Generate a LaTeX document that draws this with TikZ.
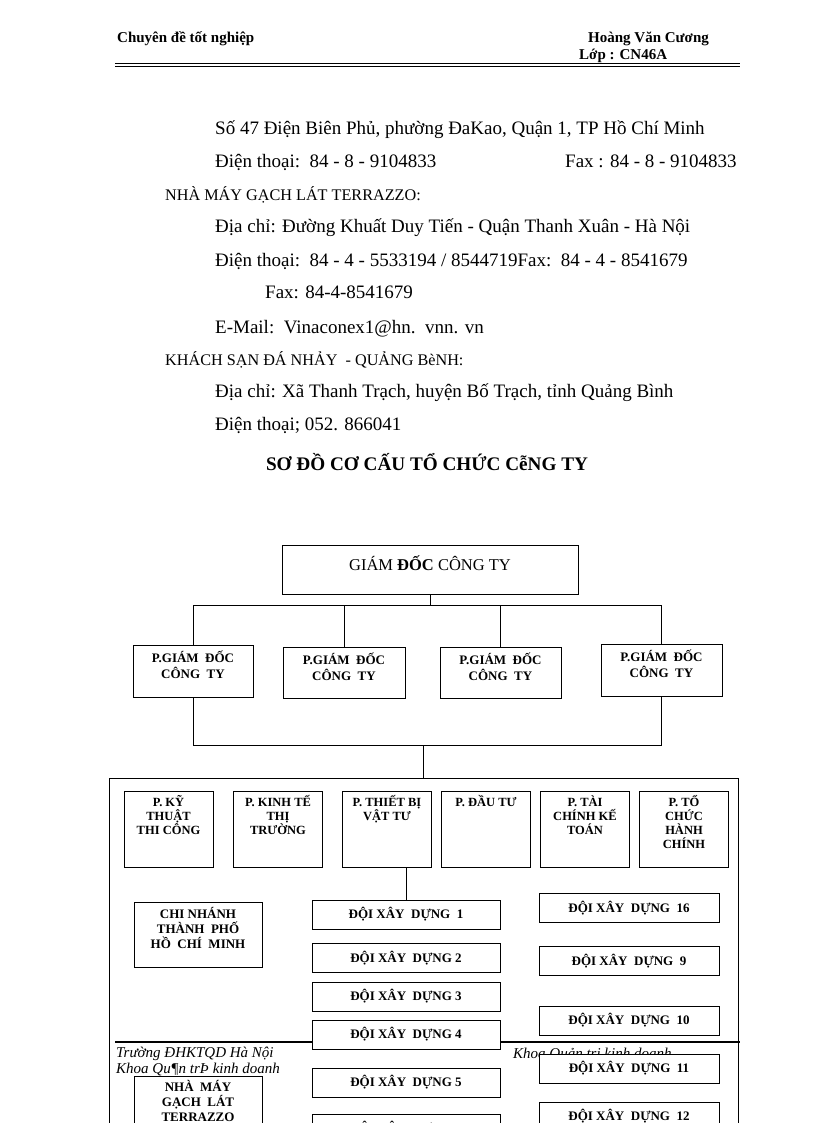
\documentclass[tikz,border=0pt]{standalone}
\usepackage{fontspec}
\setmainfont{Liberation Serif}

\begin{document}
\begin{tikzpicture}[x=1pt, y=-1pt,
		txt/.style={anchor=base west, inner sep=0pt, font=\fontsize{19}{23}\selectfont},
		hoa/.style={anchor=base west, inner sep=0pt, font=\fontsize{16.2}{19}\selectfont},
		head/.style={anchor=base west, inner sep=0pt, font=\bfseries\fontsize{15}{18}\selectfont},
		foot/.style={anchor=base west, inner sep=0pt, font=\itshape\fontsize{15}{18}\selectfont},
		hop/.style={draw, fill=white, line width=1pt, inner sep=0pt, align=center,
			font=\bfseries\fontsize{13}{15}\selectfont},
		phong/.style={hop, minimum width=89pt, minimum height=76pt},
		chu/.style={anchor=north, inner sep=0pt, align=center,
			font=\bfseries\fontsize{12.5}{14}\selectfont},
		doi/.style={hop, minimum width=188pt, minimum height=29pt},
		doiphai/.style={hop, minimum width=180pt, minimum height=29pt},
		noi/.style={line width=1pt}]
		\useasboundingbox (0,0) rectangle (816,1123);
		\clip (0,0) rectangle (816,1123);
		
		% header
		\node[head] (chuyende) at (117,43) {Chuyên đề tốt nghiệp};
		\node[head] (tacgia) at (588,43) {Hoàng Văn Cương};
		\node[head] (lop) at (579,60) {Lớp : CN46A};
		\draw[line width=1.6pt] (115,63.5) -- (740,63.5);
		\draw[line width=0.6pt] (115,66.5) -- (740,66.5);
		
		% addresses
		\node[txt] (dc1) at (215,135) {Số 47 Điện Biên Phủ, phường ĐaKao, Quận 1, TP Hồ Chí Minh};
		\node[txt] (dt1) at (215,168) {Điện thoại:\ \ 84 - 8 - 9104833};
		\node[txt] (fax1) at (565,168) {Fax : 84 - 8 - 9104833};
		\node[hoa] (nhamay) at (165,201) {NHÀ MÁY GẠCH LÁT TERRAZZO:};
		\node[txt] (dc2) at (215,233) {Địa chỉ: Đường Khuất Duy Tiến - Quận Thanh Xuân - Hà Nội};
		\node[txt] (dt2) at (215,266) {Điện thoại:\ \ 84 - 4 - 5533194 / 8544719Fax:\ \ 84 - 4 - 8541679};
		\node[txt] (fax2) at (265,298) {Fax: 84-4-8541679};
		\node[txt] (mail) at (215,333) {E-Mail:\ \ Vinaconex1@hn.\ \ vnn. vn};
		\node[hoa] (khachsan) at (165,365) {KHÁCH SẠN ĐÁ NHẢY\ \ - QUẢNG BèNH:};
		\node[txt] (dc3) at (215,397) {Địa chỉ: Xã Thanh Trạch, huyện Bố Trạch, tỉnh Quảng Bình};
		\node[txt] (dt3) at (215,430) {Điện thoại; 052. 866041};
		\node[anchor=base, inner sep=0pt, font=\bfseries\fontsize{19.2}{22}\selectfont]
		(tieude) at (427,470) {SƠ ĐỒ CƠ CẤU TỔ CHỨC CễNG TY};
		
		% chart
		\node[draw, line width=1pt, minimum width=296pt, minimum height=49pt,
		text height=11pt, text depth=9pt, font=\fontsize{16.5}{19}\selectfont]
		(gd) at (430,569.5) {GIÁM \textbf{ĐỐC} CÔNG TY};
		\node[hop, minimum width=120pt, minimum height=52pt] (pgd1) at (193,671) {};
		\node[hop, minimum width=122pt, minimum height=51pt] (pgd2) at (344,672.5) {};
		\node[hop, minimum width=121pt, minimum height=51pt] (pgd3) at (500.5,672.5) {};
		\node[hop, minimum width=121pt, minimum height=52pt] (pgd4) at (661.5,670) {};
		\node[chu, font=\bfseries\fontsize{13}{16}\selectfont] (pgd1-t) at ([yshift=-6pt]pgd1.north) {P.GIÁM\ \ ĐỐC\\CÔNG\ \ TY};
		\node[chu, font=\bfseries\fontsize{13}{16}\selectfont] (pgd2-t) at ([yshift=-6pt]pgd2.north) {P.GIÁM\ \ ĐỐC\\CÔNG\ \ TY};
		\node[chu, font=\bfseries\fontsize{13}{16}\selectfont] (pgd3-t) at ([yshift=-6pt]pgd3.north) {P.GIÁM\ \ ĐỐC\\CÔNG\ \ TY};
		\node[chu, font=\bfseries\fontsize{13}{16}\selectfont] (pgd4-t) at ([yshift=-6pt]pgd4.north) {P.GIÁM\ \ ĐỐC\\CÔNG\ \ TY};
		
		\coordinate (busA) at (0,605);
		\coordinate (busB) at (0,745);
		\draw[noi] (gd.south) -- (gd.south |- busA);
		\draw[noi] (pgd1.north |- busA) -- (pgd4.north |- busA);
		\draw[noi] (pgd1.north) -- (pgd1.north |- busA);
		\draw[noi] (pgd2.north) -- (pgd2.north |- busA);
		\draw[noi] (pgd3.north) -- (pgd3.north |- busA);
		\draw[noi] (pgd4.north) -- (pgd4.north |- busA);
		\draw[noi] (pgd1.south) -- (pgd1.south |- busB) -- (pgd4.south |- busB) -- (pgd4.south);
		
		\node[draw, line width=1pt, minimum width=629pt, minimum height=422pt] (khoi) at (423.5,989) {};
		\draw[noi] (khoi.north |- busB) -- (khoi.north);
		
		% footer (under the boxes)
		\draw[line width=2pt] (115,1042) -- (740,1042);
		\node[foot] (truong) at (116,1057) {Trường ĐHKTQD Hà Nội};
		\node[foot] (khoa1) at (116,1073) {Khoa Qu¶n trÞ kinh doanh};
		\node[foot] (khoa2) at (513,1058) {Khoa Quản trị kinh doanh};
		
		% phong ban
		\node[phong] (pkt) at (168.5,829) {};
		\node[phong] (pkd) at (278,829) {};
		\node[phong] (ptb) at (387,829) {};
		\node[phong] (pdt) at (486,829) {};
		\node[phong] (ptc) at (585,829) {};
		\node[phong] (phc) at (684,829) {};
		\node[chu] (pkt-t) at ([yshift=-5pt]pkt.north) {P. KỸ\\THUẬT\\THI CÔNG};
		\node[chu] (pkd-t) at ([yshift=-5pt]pkd.north) {P. KINH TẾ\\THỊ\\TRƯỜNG};
		\node[chu] (ptb-t) at ([yshift=-5pt]ptb.north) {P. THIẾT BỊ\\VẬT TƯ};
		\node[chu] (pdt-t) at ([yshift=-5pt]pdt.north) {P. ĐẦU TƯ};
		\node[chu] (ptc-t) at ([yshift=-5pt]ptc.north) {P. TÀI\\CHÍNH KẾ\\TOÁN};
		\node[chu] (phc-t) at ([yshift=-5pt]phc.north) {P. TỔ\\CHỨC\\HÀNH\\CHÍNH};
		
		\node[hop, minimum width=128pt, minimum height=65pt] (cn) at (198,934.5) {};
		\node[chu, font=\bfseries\fontsize{13}{15}\selectfont] (cn-t) at ([yshift=-6pt]cn.north) {CHI NHÁNH\\THÀNH\ \ PHỐ\\HỒ\ \ CHÍ\ \ MINH};
		\node[hop, minimum width=128pt, minimum height=74pt] (nm) at (198,1113) {};
		\node[chu, font=\bfseries\fontsize{13}{15}\selectfont] (nm-t) at ([yshift=-5pt]nm.north) {NHÀ\ \ MÁY\\GẠCH\ \ LÁT\\TERRAZZO};
		
		\node[doi] (d1) at (406,914.5) {ĐỘI XÂY\ \ DỰNG\ \ 1};
		\node[doi] (d2) at (406,958) {ĐỘI XÂY\ \ DỰNG 2};
		\node[doi] (d3) at (406,996.5) {ĐỘI XÂY\ \ DỰNG 3};
		\node[doi] (d4) at (406,1034.5) {ĐỘI XÂY\ \ DỰNG 4};
		\node[doi] (d5) at (406,1082.5) {ĐỘI XÂY\ \ DỰNG 5};
		\node[doi] (d6) at (406,1128.5) {ĐỘI XÂY\ \ DỰNG 6};
		\draw[noi] (ptb.south -| d1.north) -- (d1.north);
		
		\node[doiphai] (d16) at (629,908) {ĐỘI XÂY\ \ DỰNG\ \ 16};
		\node[doiphai] (d9) at (629,961) {ĐỘI XÂY\ \ DỰNG\ \ 9};
		\node[doiphai] (d10) at (629,1020.5) {ĐỘI XÂY\ \ DỰNG\ \ 10};
		\node[doiphai] (d11) at (629,1068.5) {ĐỘI XÂY\ \ DỰNG\ \ 11};
		\node[doiphai] (d12) at (629,1116.5) {ĐỘI XÂY\ \ DỰNG\ \ 12};
	\end{tikzpicture}
\end{document}
